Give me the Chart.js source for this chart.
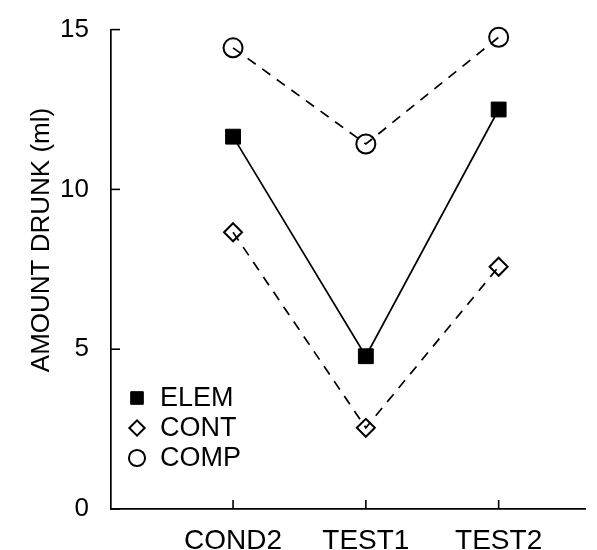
<!DOCTYPE html>
<html>
<head>
<meta charset="utf-8">
<script src="https://cdn.jsdelivr.net/npm/chart.js@4.4.1/dist/chart.umd.min.js"></script>
<style>
  html, body { margin: 0; padding: 0; background: #fff; }
  #wrap { width: 597px; height: 550px; }
</style>
</head>
<body>
<div id="wrap"><canvas id="myChart" width="597" height="550"></canvas></div>
<script>
const categories = ["COND2", "TEST1", "TEST2"];
const elem = [11.65, 4.78, 12.5];
const cont = [8.66, 2.54, 7.58];
const comp = [14.43, 11.42, 14.76];
const yTicks = [0, 5, 10, 15];
const yTitle = "AMOUNT DRUNK (ml)";

const FONT = "'Liberation Sans', Arial, sans-serif";

// points sit at x = 1, 2, 3 on a linear axis
const toPoints = (arr) => arr.map((v, i) => ({ x: i + 1, y: v }));

// tick marks point inward, like the scanned figure
const inwardTicks = {
  id: "inwardTicks",
  afterDraw(chart) {
    const { ctx, chartArea, scales } = chart;
    ctx.save();
    ctx.strokeStyle = "#000";
    ctx.lineWidth = 1.6;
    scales.y.ticks.forEach((t) => {
      const py = scales.y.getPixelForValue(t.value);
      ctx.beginPath();
      ctx.moveTo(chartArea.left, py);
      ctx.lineTo(chartArea.left + 9, py);
      ctx.stroke();
    });
    scales.x.ticks.forEach((t) => {
      const px = scales.x.getPixelForValue(t.value);
      ctx.beginPath();
      ctx.moveTo(px, chartArea.bottom);
      ctx.lineTo(px, chartArea.bottom - 9);
      ctx.stroke();
    });
    ctx.restore();
  },
};

// y title sits a bit above the middle of the axis in the scan
const sideTitle = {
  id: "sideTitle",
  afterDraw(chart) {
    const { ctx } = chart;
    ctx.save();
    ctx.translate(42, 240);
    ctx.rotate(-Math.PI / 2);
    ctx.font = "26px " + FONT;
    ctx.fillStyle = "#000";
    ctx.textAlign = "center";
    ctx.textBaseline = "middle";
    ctx.fillText(yTitle, 0, 0);
    ctx.restore();
  },
};

// legend drawn inside the plot, bottom left
const innerLegend = {
  id: "innerLegend",
  afterDraw(chart) {
    const { ctx, chartArea } = chart;
    ctx.save();
    ctx.font = "27px " + FONT;
    ctx.textBaseline = "middle";
    chart.data.datasets.forEach((ds, i) => {
      const x = chartArea.left + 26;
      const y = 398 + i * 30;
      ctx.fillStyle = ds.pointBackgroundColor;
      ctx.strokeStyle = "#000";
      ctx.lineWidth = ds.pointBorderWidth;
      Chart.helpers.drawPoint(ctx, {
        pointStyle: ds.pointStyle,
        radius: ds.pointRadius * 0.85,
        borderWidth: ds.pointBorderWidth,
      }, x, y);
      ctx.fillStyle = "#000";
      ctx.fillText(ds.label, x + 23, y + 1);
    });
    ctx.restore();
  },
};

const config = {
  type: "line",
  data: {
    datasets: [
      {
        label: "ELEM",
        data: toPoints(elem),
        clip: false,
        borderColor: "#000",
        borderWidth: 1.7,
        pointStyle: "rect",
        pointRadius: 10.5,
        pointBackgroundColor: "#000",
        pointBorderColor: "#000",
        pointBorderWidth: 1,
      },
      {
        label: "CONT",
        data: toPoints(cont),
        clip: false,
        borderColor: "#000",
        borderWidth: 1.7,
        borderDash: [10, 8],
        pointStyle: "rectRot",
        pointRadius: 9,
        pointBackgroundColor: "rgba(0,0,0,0)",
        pointBorderColor: "#000",
        pointBorderWidth: 2,
      },
      {
        label: "COMP",
        data: toPoints(comp),
        clip: false,
        borderColor: "#000",
        borderWidth: 1.7,
        borderDash: [10, 8],
        pointStyle: "circle",
        pointRadius: 9.5,
        pointBackgroundColor: "rgba(0,0,0,0)",
        pointBorderColor: "#000",
        pointBorderWidth: 2,
      },
    ],
  },
  options: {
    responsive: false,
    animation: false,
    layout: { padding: { top: 19, right: 0, left: 0, bottom: 0 } },
    plugins: {
      legend: { display: false },
      tooltip: { enabled: false },
    },
    scales: {
      x: {
        type: "linear",
        min: 0.081,
        max: 3.654,
        afterBuildTicks: (scale) => {
          scale.ticks = categories.map((c, i) => ({ value: i + 1 }));
        },
        afterFit: (scale) => { scale.height = 41; },
        grid: { display: false },
        border: { display: true, color: "#000", width: 1.7 },
        ticks: {
          color: "#000",
          font: { family: FONT, size: 28 },
          padding: 7,
          maxRotation: 0,
          callback: (v) => categories[v - 1] || "",
        },
      },
      y: {
        min: 0,
        max: 15,
        afterBuildTicks: (scale) => {
          scale.ticks = yTicks.map((v) => ({ value: v }));
        },
        afterFit: (scale) => { scale.width = 111; },
        grid: { display: false },
        border: { display: true, color: "#000", width: 1.7 },
        title: { display: false },
        ticks: {
          color: "#000",
          font: { family: FONT, size: 26 },
          padding: 14,
        },
      },
    },
  },
  plugins: [inwardTicks, innerLegend, sideTitle],
};

const myChart = new Chart(document.getElementById("myChart"), config);
</script>
</body>
</html>
